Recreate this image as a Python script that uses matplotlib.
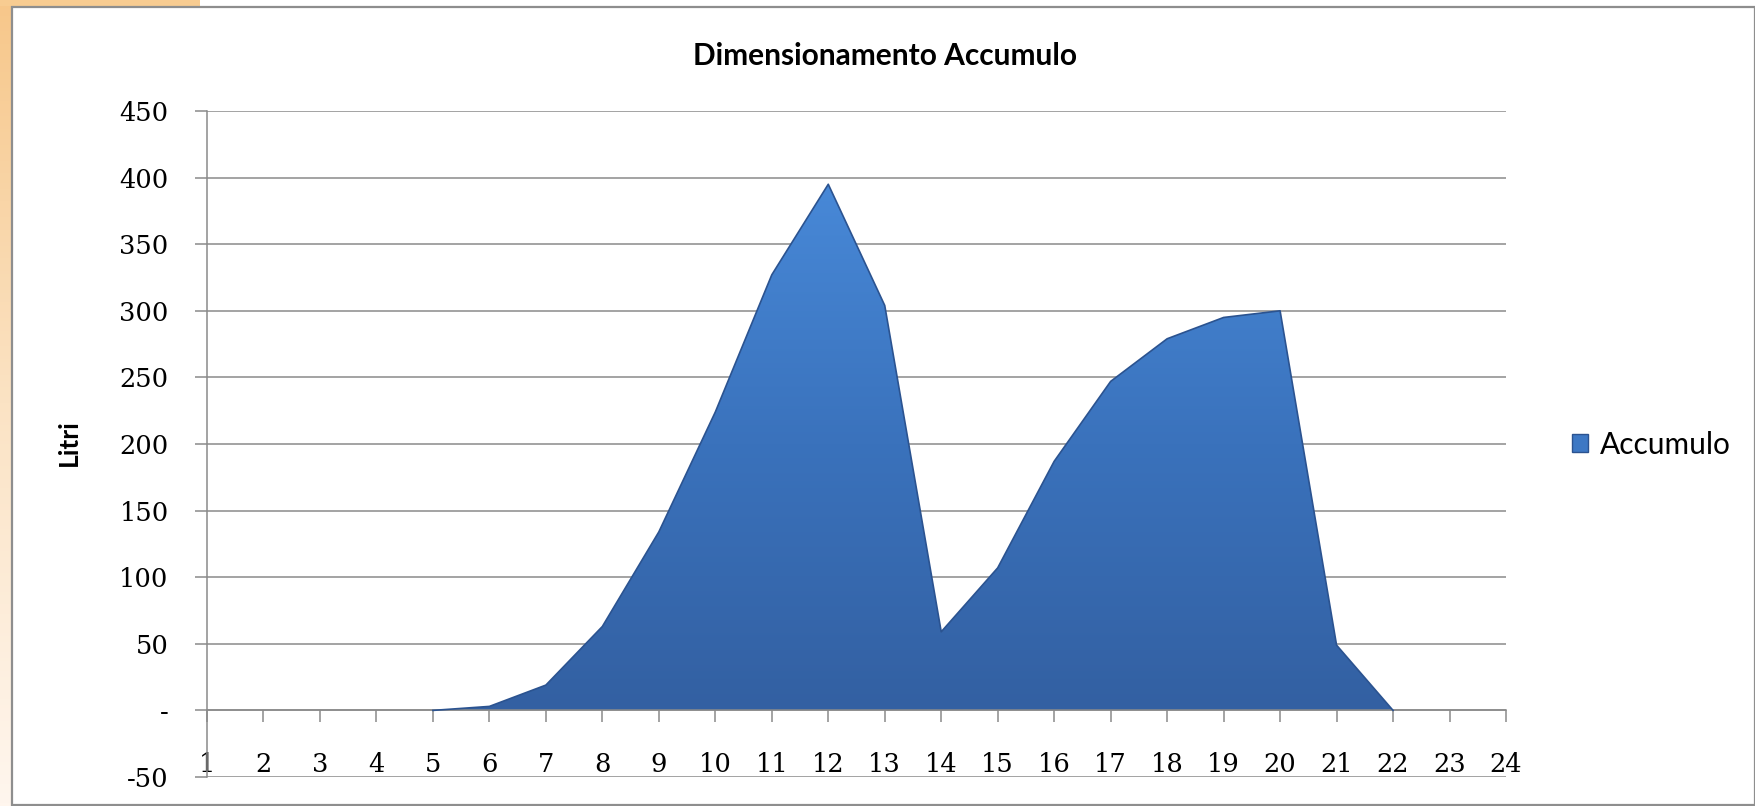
import numpy as np
import matplotlib
matplotlib.use("Agg")
import matplotlib.pyplot as plt
from matplotlib.colors import LinearSegmentedColormap
from matplotlib.patches import Rectangle, Patch

# ---- data ----
hours = list(range(1, 25))
accumulo = [0, 0, 0, 0, 0, 3, 19, 63, 134, 224, 327, 395, 304, 59, 107, 187,
            247, 279, 295, 300, 49, 0, 0, 0]
y_ticks = list(range(-50, 451, 50))
y_labels = ["-50", "-", "50", "100", "150", "200", "250", "300", "350", "400", "450"]
title = "Dimensionamento Accumulo"
y_title = "Litri"
series_name = "Accumulo"

W, H = 1756, 806
fig = plt.figure(figsize=(W / 100, H / 100), dpi=100)
fig.patch.set_facecolor("white")

# background decorations (orange slide edge + chart frame)
bg = fig.add_axes([0, 0, 1, 1], zorder=-5)
bg.set_xlim(0, W); bg.set_ylim(H, 0); bg.axis("off")
grad = np.linspace(0, 1, 256).reshape(-1, 1)
orange = LinearSegmentedColormap.from_list("o", ["#f7c78a", "#fbe3c4", "#fff6ee"])
bg.imshow(grad, cmap=orange, extent=(0, 11, H, 0), aspect="auto")
bg.add_patch(Rectangle((0, 0), 200, 6, facecolor="#f8cc91", edgecolor="none"))
bg.add_patch(Rectangle((12, 7), W - 13, H - 8, facecolor="white",
                       edgecolor="#8e8e8e", lw=1.6))

ax = fig.add_axes([207 / W, 1 - 777 / H, (1506 - 207) / W, (777 - 111) / H])
ax.set_facecolor("none")

grid_c = "#8a8a8a"
ax.set_yticks(y_ticks)
ax.set_yticklabels(y_labels)
ax.yaxis.grid(True, color=grid_c, lw=1.1)
ax.set_axisbelow(True)
ax.set_xticks(hours)
ax.set_xticklabels([str(h) for h in hours])

for s in ["top", "right"]:
    ax.spines[s].set_visible(False)
ax.spines["left"].set_color(grid_c)
ax.spines["left"].set_linewidth(1.1)
ax.spines["bottom"].set_position(("data", 0))
ax.spines["bottom"].set_color(grid_c)
ax.spines["bottom"].set_linewidth(1.1)

ax.tick_params(axis="y", direction="out", length=8.6, width=1.1, color=grid_c,
               pad=19, labelsize=18.5)
ax.tick_params(axis="x", direction="out", length=8.6, width=1.1, color=grid_c,
               pad=21, labelsize=18.5)
for lab in ax.get_xticklabels() + ax.get_yticklabels():
    lab.set_fontfamily("DejaVu Serif")

# area with gradient
poly = ax.fill_between(hours, accumulo, 0, facecolor="none", edgecolor="none")
blue = LinearSegmentedColormap.from_list("b", ["#3360a2", "#3a72bc", "#4889d8"])
im = ax.imshow(np.linspace(0, 1, 256).reshape(-1, 1), cmap=blue, origin="lower",
               extent=(1, 24, 0, 400), aspect="auto", zorder=2)
im.set_clip_path(poly.get_paths()[0], transform=ax.transData)

# outline only where the area exists
vals = np.array(accumulo)
nz = np.nonzero(vals)[0]
i0, i1 = max(nz[0] - 1, 0), min(nz[-1] + 1, len(vals) - 1)
ax.plot(hours[i0:i1 + 1], accumulo[i0:i1 + 1], color="#2b5390", lw=1.2,
        zorder=3, solid_joinstyle="round")
ax.set_xlim(1, 24)
ax.set_ylim(-50, 450)

fig.text(885 / W, 1 - 56 / H, title, ha="center", va="center",
         family="Lato", weight="bold", size=21.5)
fig.text(68.5 / W, 1 - 443 / H, y_title, ha="center", va="center", rotation=90,
         family="Lato", weight="bold", size=19)

handle = Patch(facecolor="#3d78c4", edgecolor="#2b5390", label=series_name)
fig.legend(handles=[handle], loc="center left",
           bbox_to_anchor=(1572 / W, 1 - 445 / H), frameon=False,
           prop=dict(family="Lato", size=21.5), handlelength=0.55, handleheight=0.55,
           handletextpad=0.4, borderaxespad=0, borderpad=0)

fig.savefig("out.png", dpi=100, facecolor="white")
